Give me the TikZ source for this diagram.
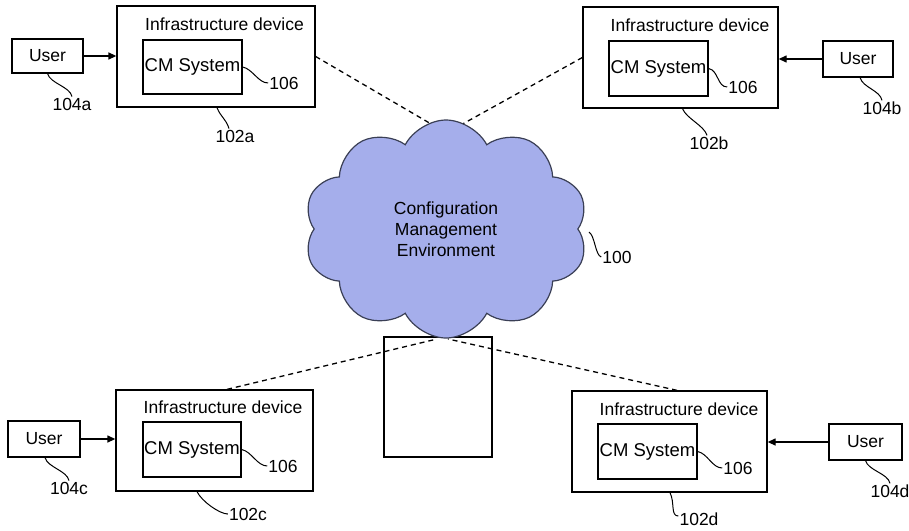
\documentclass[tikz,border=0pt]{standalone}
\usepackage{fontspec}
\setmainfont{Liberation Sans}
\usetikzlibrary{arrows.meta,shapes.symbols}
\definecolor{cloudfill}{HTML}{A5AEEB}
\definecolor{cloudline}{HTML}{3A3F55}
\begin{document}
\begin{tikzpicture}[x=1pt,y=-1pt,
  every node/.style={font=\fontsize{17.5}{21}\selectfont},
  devbox/.style={draw, line width=1.3pt, inner sep=0pt},
  cmbox/.style={devbox, font=\fontsize{18.5}{22}\selectfont},
  lbl/.style={inner sep=1pt},
  leader/.style={line width=1pt},
  conn/.style={line width=1.3pt, -{Triangle[length=8pt,width=7pt]}},
  dashlink/.style={line width=1.3pt, dash pattern=on 5pt off 4pt}]
\useasboundingbox (0,0) rectangle (909,530);

% device boxes
\node[devbox, minimum width=198, minimum height=101] (d1) at (216,56.5) {};
\node[devbox, minimum width=195, minimum height=101] (d2) at (680.5,57.5) {};
\node[devbox, minimum width=197, minimum height=101] (d3) at (214.5,440.5) {};
\node[devbox, minimum width=195, minimum height=101] (d4) at (669.5,441.5) {};

% titles
\node (t1) at (224.5,24) {Infrastructure device};
\node (t2) at (690,25) {Infrastructure device};
\node (t3) at (223,407) {Infrastructure device};
\node (t4) at (679,409) {Infrastructure device};

% CM System boxes
\node[cmbox, minimum width=99, minimum height=54] (c1) at (192.5,67) {CM System};
\node[cmbox, minimum width=99, minimum height=55] (c2) at (658.5,68.5) {CM System};
\node[cmbox, minimum width=98, minimum height=55] (c3) at (192,449.5) {CM System};
\node[cmbox, minimum width=99, minimum height=55] (c4) at (647.5,451.5) {CM System};

% users
\node[devbox, minimum width=71, minimum height=34] (u1) at (47.5,56) {User};
\node[devbox, minimum width=70, minimum height=36] (u2) at (858,59) {User};
\node[devbox, minimum width=72, minimum height=36] (u3) at (44,439) {User};
\node[devbox, minimum width=73, minimum height=36] (u4) at (865.5,442) {User};

\draw[conn] (u1) -- (u1 -| d1.west);
\draw[conn] (u2) -- (u2 -| d2.east);
\draw[conn] (u3) -- (u3 -| d3.west);
\draw[conn] (u4) -- (u4 -| d4.east);

% blank box
\node[devbox, minimum width=108, minimum height=120] (bx) at (438,397) {};

% cloud attachment points
\coordinate (ct1) at (438,128);
\coordinate (ct2) at (450,131);
\coordinate (cb1) at (437,339);
\coordinate (cb2) at (448,339);

\draw[dashlink] (d1.east) -- (ct1);
\draw[dashlink] (d2.west) -- (ct2);
\draw[dashlink] ([xshift=12.5pt]d3.north) -- (cb1);
\draw[dashlink] ([xshift=7.5pt]d4.north) -- (cb2);

% cloud
\node[cloud, cloud puffs=10, cloud puff arc=125, aspect=1.3, draw=cloudline, fill=cloudfill,
      line width=1.2pt, minimum width=284, minimum height=218, inner sep=0pt,
      align=center] (cloud) at (446,229)
  {Configuration\\Management\\Environment};

% labels
\node[lbl] (l100) at (617,257) {100};
\draw[leader] (589,232) .. controls +(6,4) and +(-6,-2) .. (l100.west);

\node[lbl] (l104a) at (72,104) {104a};
\node[lbl] (l104b) at (882,108) {104b};
\node[lbl] (l104c) at (69,488) {104c};
\node[lbl] (l104d) at (890,491) {104d};
\draw[leader] (u1.south) .. controls +(3,10) and +(-2,-10) .. ([xshift=0pt]l104a.north);
\draw[leader] ([xshift=2pt]u2.south) .. controls +(3,10) and +(-2,-10) .. (l104b.north);
\draw[leader] ([xshift=1pt]u3.south) .. controls +(3,10) and +(-2,-10) .. (l104c.north);
\draw[leader] ([xshift=0pt]u4.south) .. controls +(3,10) and +(-2,-10) .. (l104d.north);

\node[lbl] (l102a) at (235,136) {102a};
\node[lbl] (l102b) at (709,143) {102b};
\node[lbl] (l102c) at (248,514) {102c};
\node[lbl] (l102d) at (699,519) {102d};
\draw[leader] ([xshift=1pt]d1.south) .. controls +(4,10) and +(-3,-10) .. ([xshift=-6pt]l102a.north);
\draw[leader] ([xshift=2pt]d2.south) .. controls +(4,10) and +(-3,-10) .. ([xshift=-2pt]l102b.north);
\draw[leader] ([xshift=-17.5pt]d3.south) .. controls +(5,10) and +(-8,0) .. (l102c.west);
\draw[leader] ([xshift=0.5pt]d4.south) .. controls +(5,10) and +(-8,0) .. ([yshift=3pt]l102d.west);

\node[lbl] (s1) at (284,83) {106};
\node[lbl] (s2) at (743,87) {106};
\node[lbl] (s3) at (283,466) {106};
\node[lbl] (s4) at (738,468) {106};
\draw[leader] (c1.east) .. controls +(10,2) and +(-10,0) .. (s1.west);
\draw[leader] (c2.east) .. controls +(10,2) and +(-10,0) .. (s2.west);
\draw[leader] (c3.east) .. controls +(10,2) and +(-10,0) .. (s3.west);
\draw[leader] (c4.east) .. controls +(10,2) and +(-10,0) .. (s4.west);
\end{tikzpicture}
\end{document}
